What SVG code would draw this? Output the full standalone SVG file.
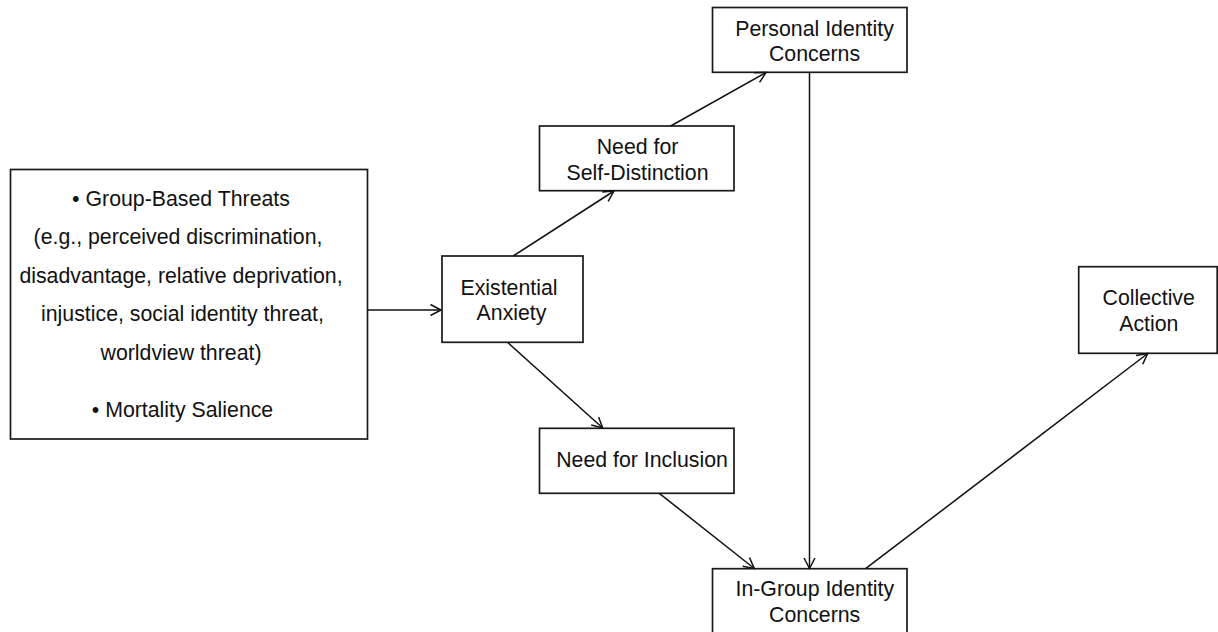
<svg xmlns="http://www.w3.org/2000/svg" width="1218" height="632" viewBox="0 0 1218 632">
<defs>
<style>
.box{fill:#fff;stroke:#1a1a1a;stroke-width:1.7}
.t{font-family:"Liberation Sans",Arial,sans-serif;font-size:21.3px;fill:#111;text-anchor:middle}
.c{stroke:#111;stroke-width:1.5;fill:none;marker-end:url(#arr)}
</style>
<marker id="arr" viewBox="-12 -7 14 14" markerWidth="14" markerHeight="14" refX="0" refY="0" orient="auto" markerUnits="userSpaceOnUse">
<path d="M-10.5,-5.5 L0,0 L-10.5,5.5" fill="none" stroke="#111" stroke-width="1.5"/>
</marker>
</defs>
<rect width="1218" height="632" fill="#fff"/>
<g id="threats">
<rect class="box" x="10.5" y="169.5" width="357" height="269.5"/>
<text class="t" x="181" y="205.5">• Group-Based Threats</text>
<text class="t" x="178" y="244">(e.g., perceived discrimination,</text>
<text class="t" x="181" y="282.5">disadvantage, relative deprivation,</text>
<text class="t" x="182.5" y="321">injustice, social identity threat,</text>
<text class="t" x="181" y="359.5">worldview threat)</text>
<text class="t" x="182.5" y="417">• Mortality Salience</text>
</g>
<g id="existential-anxiety">
<rect class="box" x="442" y="256" width="141" height="86.3"/>
<text class="t" x="509" y="295">Existential</text>
<text class="t" x="511.5" y="320">Anxiety</text>
</g>
<g id="self-distinction">
<rect class="box" x="539.5" y="126" width="194.5" height="64.7"/>
<text class="t" x="637.5" y="154">Need for</text>
<text class="t" x="637.5" y="180">Self-Distinction</text>
</g>
<g id="personal-identity">
<rect class="box" x="712.5" y="7.5" width="194.5" height="64.8"/>
<text class="t" x="814.5" y="36">Personal Identity</text>
<text class="t" x="814.5" y="61">Concerns</text>
</g>
<g id="inclusion">
<rect class="box" x="539.5" y="428.3" width="194.5" height="65"/>
<text class="t" x="642" y="466.5">Need for Inclusion</text>
</g>
<g id="ingroup-identity">
<rect class="box" x="712.5" y="568.7" width="194.5" height="75"/>
<text class="t" x="814.8" y="595.7">In-Group Identity</text>
<text class="t" x="814.7" y="621.7">Concerns</text>
</g>
<g id="collective-action">
<rect class="box" x="1078.7" y="266.7" width="138.5" height="86.6"/>
<text class="t" x="1148.7" y="305">Collective</text>
<text class="t" x="1148.8" y="330.7">Action</text>
</g>
<g id="connectors">
<line class="c" x1="367.5" y1="310" x2="441" y2="310"/>
<line class="c" x1="513.3" y1="256" x2="614" y2="191"/>
<line class="c" x1="670.7" y1="126" x2="766" y2="72.5"/>
<line class="c" x1="507.5" y1="342.3" x2="602.7" y2="428"/>
<line class="c" x1="659.3" y1="493.3" x2="754.3" y2="568.5"/>
<line class="c" x1="809.5" y1="72.3" x2="809.5" y2="568.5"/>
<line class="c" x1="865.6" y1="568.7" x2="1147.7" y2="353.5"/>
</g>
</svg>
